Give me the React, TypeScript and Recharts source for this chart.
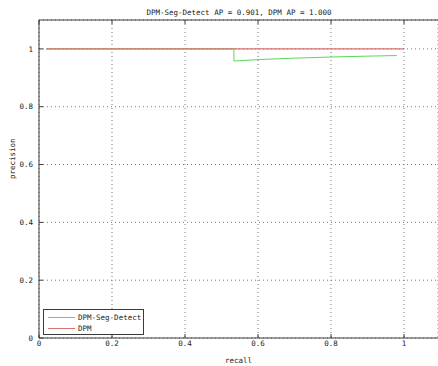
import React from "react"
import {
  LineChart,
  Line,
  XAxis,
  YAxis,
  CartesianGrid,
} from "recharts"

// values
const xTicks = [0, 0.2, 0.4, 0.6, 0.8, 1]
const yTicks = [0, 0.2, 0.4, 0.6, 0.8, 1]

const segRecall = [0.02, 0.534, 0.534, 0.6, 0.7, 0.8, 0.9, 0.98]
const segPrecision = [1, 1, 0.958, 0.963, 0.968, 0.972, 0.975, 0.977]

const dpmRecall = [0.02, 1]
const dpmPrecision = [1, 1]

const seriesNames = ["DPM-Seg-Detect", "DPM"]
const title = "DPM-Seg-Detect AP = 0.901, DPM AP = 1.000"

const segData = segRecall.map((r, i) => ({ recall: r, precision: segPrecision[i] }))
const dpmData = dpmRecall.map((r, i) => ({ recall: r, precision: dpmPrecision[i] }))

const FONT = "'DejaVu Sans Mono', monospace"
const AXIS = "#3a3a3a"
const GREEN = "#5ad85a"
const RED = "#d9716f"

const fmt = (v: number) => (v === 0 || v === 1 ? String(v) : v.toFixed(1))

// matlab-style legend box, bottom left of the axes
const LegendBox = () => (
  <div
    style={{
      position: "absolute",
      left: 43,
      top: 309,
      width: 101,
      height: 26,
      border: `1px solid ${AXIS}`,
      background: "#fff",
      fontFamily: FONT,
      fontSize: 7.5,
      color: "#222",
      boxSizing: "border-box",
      paddingTop: 2,
      whiteSpace: "nowrap",
    }}
  >
    {[GREEN, RED].map((c, i) => (
      <div key={i} style={{ display: "flex", alignItems: "center", height: 11 }}>
        <div style={{ width: 27, height: 1, background: c, marginLeft: 4, marginRight: 3 }} />
        <span>{seriesNames[i]}</span>
      </div>
    ))}
  </div>
)

export default function App() {
  return (
    <div style={{ position: "absolute", left: 0, top: 0, width: 438, height: 366, background: "#fff" }}>
      <div
        style={{
          position: "absolute",
          left: 0,
          top: 8,
          width: 478,
          textAlign: "center",
          fontFamily: FONT,
          fontSize: 7.5,
          color: "#222",
        }}
      >
        {title}
      </div>
      <LineChart
        width={438}
        height={366}
        margin={{ top: 0, right: 0, bottom: 0, left: 0 }}
      >
        <CartesianGrid stroke="#777" strokeDasharray="1 3" />
        <XAxis
          dataKey="recall"
          type="number"
          domain={[0, 1.093]}
          ticks={xTicks}
          tickFormatter={fmt}
          height={28}
          stroke={AXIS}
          tickSize={-4}
          tickMargin={7}
          allowDataOverflow
          tick={{ fontFamily: FONT, fontSize: 7.5, fill: "#222" }}
          label={{ value: "recall", position: "insideBottom", offset: 3, fontFamily: FONT, fontSize: 7.5, fill: "#222" }}
        />
        <XAxis
          xAxisId="top"
          orientation="top"
          dataKey="recall"
          type="number"
          domain={[0, 1.093]}
          ticks={xTicks}
          tickFormatter={() => ""}
          height={20}
          stroke={AXIS}
          tickSize={-4}
          allowDataOverflow
        />
        <YAxis
          dataKey="precision"
          type="number"
          domain={[0, 1.1]}
          ticks={yTicks}
          tickFormatter={fmt}
          width={39}
          stroke={AXIS}
          tickSize={-4}
          tickMargin={10}
          allowDataOverflow
          tick={{ fontFamily: FONT, fontSize: 7.5, fill: "#222" }}
          label={{ value: "precision", angle: -90, position: "insideLeft", offset: 12, fontFamily: FONT, fontSize: 7.5, fill: "#222" }}
        />
        <Line
          data={segData}
          dataKey="precision"
          name={seriesNames[0]}
          stroke={GREEN}
          strokeWidth={1}
          dot={false}
          isAnimationActive={false}
        />
        <Line
          data={dpmData}
          dataKey="precision"
          name={seriesNames[1]}
          stroke={RED}
          strokeWidth={1.2}
          dot={false}
          isAnimationActive={false}
        />
      </LineChart>
      <LegendBox />
    </div>
  )
}
